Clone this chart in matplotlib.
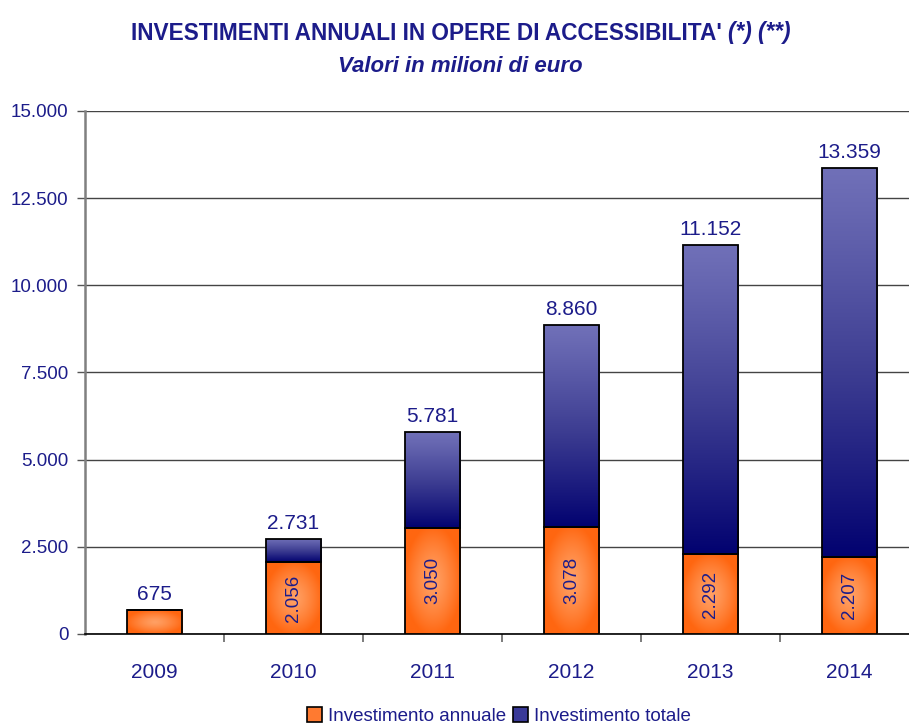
import numpy as np
import matplotlib
matplotlib.use("Agg")
import matplotlib.pyplot as plt
from matplotlib.ticker import FuncFormatter, FixedLocator
from matplotlib.patches import Patch

plt.rcParams['font.family'] = ['Liberation Sans', 'DejaVu Sans']

years = ['2009', '2010', '2011', '2012', '2013', '2014']
annual = [675, 2056, 3050, 3078, 2292, 2207]
totals = [675, 2731, 5781, 8860, 11152, 13359]
annual_labels = ['', '2.056', '3.050', '3.078', '2.292', '2.207']
total_labels = ['675', '2.731', '5.781', '8.860', '11.152', '13.359']

NAVY = '#1c1c8a'
W, H = 909, 727
fig = plt.figure(figsize=(W / 100, H / 100), dpi=100)
ax = fig.add_axes([85 / W, 1 - 634 / H, 834 / W, 523 / H])

x = np.arange(len(years))
prev = [t - a for t, a in zip(totals, annual)]
bw = 0.40


def orange_grad(n=60):
    yy, xx = np.mgrid[-1:1:n * 1j, -1:1:n * 1j]
    d = np.clip(np.sqrt(xx ** 2 + yy ** 2) / 1.05, 0, 1)
    c0 = np.array([255, 160, 100]) / 255
    c1 = np.array([255, 102, 16]) / 255
    t = d[..., None] ** 1.3
    return c0 * (1 - t) + c1 * t


def blue_grad(n=200):
    t = np.linspace(0, 1, n)[:, None, None]  # 0 top, 1 bottom
    c0 = np.array([112, 112, 184]) / 255
    cm = np.array([60, 60, 145]) / 255
    c1 = np.array([2, 2, 112]) / 255
    t2 = t ** 1.1
    img = np.where(t2 < 0.5, c0 * (1 - 2 * t2) + cm * (2 * t2), cm * (2 - 2 * t2) + c1 * (2 * t2 - 1))
    return np.repeat(img, 2, axis=1)


og = orange_grad()
bg = blue_grad()

bars_a = ax.bar(x, annual, bw, facecolor='none', edgecolor='black', linewidth=1.3, zorder=4)
bars_b = ax.bar(x, prev, bw, bottom=annual, facecolor='none', edgecolor='black', linewidth=1.3, zorder=4)

for i in range(len(years)):
    x0, x1 = x[i] - bw / 2, x[i] + bw / 2
    im = ax.imshow(og, extent=(x0, x1, 0, annual[i]), aspect='auto', origin='upper',
                   interpolation='bilinear', zorder=3)
    im.set_clip_path(bars_a[i])
    if prev[i] > 0:
        im2 = ax.imshow(bg, extent=(x0, x1, annual[i], totals[i]), aspect='auto', origin='upper',
                        interpolation='bilinear', zorder=3)
        im2.set_clip_path(bars_b[i])
    ax.text(x[i], totals[i] + 180, total_labels[i], ha='center', va='bottom',
            fontsize=15, color=NAVY, zorder=5)
    if annual_labels[i]:
        ax.text(x[i], annual[i] / 2, annual_labels[i], ha='center', va='center', rotation=90,
                fontsize=13.5, color=NAVY, zorder=5)

ax.set_xlim(-0.5, len(years) - 0.5)
ax.set_ylim(0, 15000)
ax.yaxis.set_major_locator(FixedLocator(np.arange(0, 15001, 2500)))
ax.yaxis.set_major_formatter(FuncFormatter(lambda v, p: f"{v:,.0f}".replace(',', '.')))
ax.grid(axis='y', color='#444444', linewidth=1.0, zorder=1)
ax.set_axisbelow(True)

ax.set_xticks(x)
ax.set_xticklabels(years)
ax.set_xticks(np.arange(0.5, len(years) - 0.5, 1), minor=True)
ax.tick_params(axis='x', which='major', length=0, pad=21, labelsize=15, labelcolor=NAVY)
ax.tick_params(axis='x', which='minor', length=6, width=1.2, color='#666666', direction='out')
ax.tick_params(axis='y', length=6, width=1.0, color='#555555', direction='out', pad=6,
               labelsize=13.5, labelcolor=NAVY)

for s in ['top', 'right']:
    ax.spines[s].set_visible(False)
ax.spines['left'].set_color('#808080')
ax.spines['left'].set_linewidth(1.8)
ax.spines['bottom'].set_color('black')
ax.spines['bottom'].set_linewidth(1.2)

# Title: bold part followed by bold-italic notes
renderer = fig.canvas.get_renderer()
t1 = fig.text(0, 1 - 33 / H, "INVESTIMENTI ANNUALI IN OPERE DI ACCESSIBILITA' ", fontsize=16.3,
              fontweight='bold', color=NAVY, ha='left', va='center')
t2 = fig.text(0, 1 - 33 / H, "(*) (**)", fontsize=16.3, fontweight='bold', style='italic',
              color=NAVY, ha='left', va='center')
w1 = t1.get_window_extent(renderer).width
w2 = t2.get_window_extent(renderer).width
start = 461 - (w1 + w2) / 2
t1.set_x(start / W)
t2.set_x((start + w1) / W)

fig.text(460 / W, 1 - 67 / H, "Valori in milioni di euro", fontsize=16, fontweight='bold',
         style='italic', color=NAVY, ha='center', va='center')

handles = [Patch(facecolor='#ff7a30', edgecolor='black', linewidth=1.2, label='Investimento annuale'),
           Patch(facecolor='#3a3a98', edgecolor='black', linewidth=1.2, label='Investimento totale')]
leg = fig.legend(handles=handles, loc='center', bbox_to_anchor=(499 / W, 1 - 716 / H), ncol=2,
                 frameon=False, handlelength=0.8, handleheight=0.8, handletextpad=0.3,
                 columnspacing=0.4, fontsize=13.5)
for t in leg.get_texts():
    t.set_color(NAVY)

fig.savefig('out.png', dpi=100)
